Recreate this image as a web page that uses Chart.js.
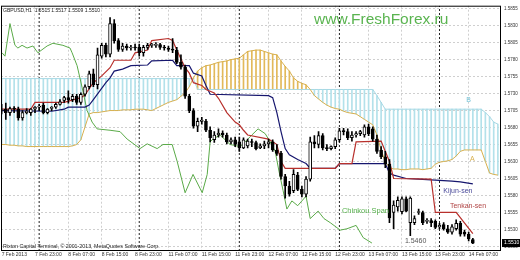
<!DOCTYPE html>
<html><head><meta charset="utf-8">
<script src="https://cdn.jsdelivr.net/npm/chart.js@4.4.1/dist/chart.umd.min.js"></script>
<style>html,body{margin:0;padding:0;background:#fff;}</style>
</head><body>
<canvas id="c" width="520" height="260"></canvas>
<script>
// ---- data ----
const xTickIdx = [0,8,16,24,32,40,48,56,64,72,80,88,96,104,112];
const xTickLabels = ["7 Feb 2013","7 Feb 23:00","8 Feb 07:00","8 Feb 15:00","8 Feb 23:00","11 Feb 07:00","11 Feb 15:00","11 Feb 23:00","12 Feb 07:00","12 Feb 15:00","12 Feb 23:00","13 Feb 07:00","13 Feb 15:00","13 Feb 23:00","14 Feb 07:00"];
const yTicks = [1.5505,1.5530,1.5555,1.5580,1.5605,1.5630,1.5655,1.5680,1.5705,1.5730,1.5755,1.5780,1.5805,1.5830,1.5855];
const daySeparators = [9,33,57,81,105];

const open = [1.5705,1.5707,1.5702,1.5708,1.5707,1.5694,1.5702,1.5702,1.5707,1.5710,
1.5713,1.5702,1.5708,1.5710,1.5714,1.5720,1.5724,1.5721,1.5726,1.5717,
1.5729,1.5740,1.5759,1.5743,1.5785,1.5801,1.5788,1.5833,1.5808,1.5795,
1.5800,1.5797,1.5798,1.5798,1.5790,1.5798,1.5801,1.5801,1.5802,1.5798,
1.5797,1.5795,1.5794,1.5776,1.5769,1.5726,1.5705,1.5682,1.5689,1.5689,
1.5676,1.5662,1.5669,1.5672,1.5669,1.5659,1.5662,1.5659,1.5650,1.5653,
1.5659,1.5658,1.5650,1.5653,1.5656,1.5659,1.5647,1.5642,1.5608,1.5594,
1.5587,1.5610,1.5589,1.5582,1.5604,1.5659,1.5655,1.5668,1.5650,1.5649,
1.5652,1.5662,1.5675,1.5674,1.5665,1.5669,1.5671,1.5669,1.5681,1.5678,
1.5663,1.5647,1.5637,1.5626,1.5555,1.5563,1.5556,1.5575,1.5540,1.5540,
1.5555,1.5555,1.5542,1.5543,1.5542,1.5534,1.5537,1.5531,1.5526,1.5531,
1.5539,1.5526,1.5523,1.5515];
const high = [1.5714,1.5716,1.5710,1.5711,1.5710,1.5705,1.5708,1.5708,1.5711,1.5714,
1.5716,1.5708,1.5711,1.5716,1.5721,1.5726,1.5734,1.5729,1.5729,1.5731,
1.5743,1.5763,1.5766,1.5797,1.5804,1.5804,1.5842,1.5839,1.5811,1.5804,
1.5803,1.5801,1.5803,1.5803,1.5801,1.5804,1.5804,1.5805,1.5804,1.5801,
1.5800,1.5811,1.5798,1.5787,1.5772,1.5729,1.5708,1.5694,1.5695,1.5692,
1.5681,1.5674,1.5678,1.5675,1.5672,1.5665,1.5666,1.5666,1.5665,1.5663,
1.5663,1.5660,1.5656,1.5660,1.5663,1.5662,1.5655,1.5645,1.5611,1.5601,
1.5618,1.5614,1.5594,1.5608,1.5666,1.5668,1.5674,1.5671,1.5655,1.5653,
1.5665,1.5679,1.5679,1.5678,1.5674,1.5674,1.5676,1.5684,1.5685,1.5681,
1.5669,1.5652,1.5645,1.5633,1.5572,1.5578,1.5578,1.5578,1.5578,1.5550,
1.5560,1.5557,1.5546,1.5546,1.5544,1.5539,1.5540,1.5536,1.5537,1.5544,
1.5542,1.5529,1.5526,1.5517];
const low = [1.5700,1.5692,1.5698,1.5702,1.5691,1.5691,1.5700,1.5698,1.5702,1.5705,
1.5700,1.5700,1.5705,1.5708,1.5713,1.5717,1.5716,1.5718,1.5714,1.5714,
1.5726,1.5737,1.5740,1.5737,1.5782,1.5784,1.5784,1.5804,1.5792,1.5792,
1.5794,1.5794,1.5794,1.5785,1.5785,1.5795,1.5798,1.5798,1.5795,1.5794,
1.5792,1.5790,1.5774,1.5766,1.5723,1.5702,1.5679,1.5674,1.5685,1.5674,
1.5659,1.5658,1.5666,1.5666,1.5656,1.5656,1.5652,1.5645,1.5649,1.5650,
1.5652,1.5647,1.5649,1.5649,1.5650,1.5645,1.5639,1.5604,1.5576,1.5579,
1.5584,1.5587,1.5578,1.5578,1.5601,1.5650,1.5650,1.5647,1.5646,1.5647,
1.5649,1.5659,1.5669,1.5662,1.5660,1.5666,1.5668,1.5666,1.5668,1.5660,
1.5642,1.5634,1.5621,1.5540,1.5531,1.5557,1.5553,1.5556,1.5521,1.5537,
1.5552,1.5537,1.5539,1.5534,1.5531,1.5531,1.5529,1.5524,1.5523,1.5529,
1.5520,1.5520,1.5513,1.5509];
const close = [1.5707,1.5702,1.5708,1.5707,1.5694,1.5702,1.5704,1.5707,1.5710,1.5711,
1.5702,1.5707,1.5710,1.5714,1.5718,1.5724,1.5721,1.5726,1.5717,1.5729,
1.5740,1.5759,1.5743,1.5787,1.5801,1.5788,1.5833,1.5808,1.5795,1.5800,
1.5797,1.5798,1.5797,1.5790,1.5798,1.5801,1.5801,1.5802,1.5798,1.5797,
1.5795,1.5794,1.5776,1.5769,1.5726,1.5705,1.5682,1.5689,1.5691,1.5676,
1.5665,1.5669,1.5672,1.5669,1.5659,1.5662,1.5655,1.5650,1.5662,1.5660,
1.5658,1.5649,1.5653,1.5656,1.5659,1.5647,1.5642,1.5608,1.5594,1.5582,
1.5611,1.5589,1.5582,1.5604,1.5659,1.5656,1.5668,1.5650,1.5649,1.5652,
1.5662,1.5675,1.5674,1.5665,1.5669,1.5671,1.5674,1.5681,1.5671,1.5663,
1.5645,1.5637,1.5626,1.5547,1.5566,1.5573,1.5575,1.5557,1.5576,1.5546,
1.5556,1.5540,1.5543,1.5540,1.5533,1.5536,1.5531,1.5526,1.5534,1.5539,
1.5523,1.5523,1.5516,1.5510];

const senkouA = [1.5655,1.5655,1.5654,1.5654,1.5653,1.5653,1.5652,1.5652,1.5652,1.5652,
1.5652,1.5652,1.5652,1.5652,1.5652,1.5652,1.5652,1.5653,1.5655,1.5662,
1.5681,1.5700,1.5702,1.5702,1.5703,1.5704,1.5705,1.5705,1.5705,1.5706,
1.5706,1.5706,1.5707,1.5707,1.5707,1.5706,1.5705,1.5708,1.5711,1.5714,
1.5717,1.5719,1.5721,1.5726,1.5731,1.5740,1.5753,1.5763,1.5768,1.5771,
1.5772,1.5774,1.5776,1.5777,1.5778,1.5780,1.5781,1.5782,1.5787,1.5792,
1.5793,1.5794,1.5794,1.5792,1.5790,1.5788,1.5787,1.5778,1.5770,1.5763,
1.5753,1.5748,1.5745,1.5743,1.5736,1.5727,1.5722,1.5717,1.5713,1.5710,
1.5708,1.5707,1.5704,1.5702,1.5701,1.5700,1.5696,1.5692,1.5688,1.5684,
1.5669,1.5647,1.5630,1.5621,1.5619,1.5619,1.5618,1.5618,1.5619,1.5619,
1.5619,1.5618,1.5619,1.5620,1.5626,1.5629,1.5630,1.5631,1.5633,1.5638,
1.5645,1.5647,1.5647,1.5647,1.5647,1.5647,1.5630,1.5613,1.5611,1.5610];
const senkouB = [1.5752,1.5752,1.5752,1.5752,1.5752,1.5752,1.5752,1.5752,1.5752,1.5752,
1.5752,1.5752,1.5752,1.5752,1.5752,1.5752,1.5752,1.5752,1.5752,1.5752,
1.5752,1.5752,1.5752,1.5752,1.5752,1.5752,1.5752,1.5752,1.5752,1.5752,
1.5752,1.5752,1.5752,1.5752,1.5752,1.5752,1.5752,1.5752,1.5752,1.5752,
1.5752,1.5752,1.5752,1.5752,1.5752,1.5752,1.5752,1.5736,1.5736,1.5736,
1.5736,1.5736,1.5736,1.5736,1.5736,1.5736,1.5736,1.5736,1.5736,1.5736,
1.5736,1.5736,1.5736,1.5736,1.5736,1.5736,1.5736,1.5736,1.5736,1.5736,
1.5736,1.5736,1.5736,1.5736,1.5736,1.5736,1.5736,1.5736,1.5736,1.5736,
1.5736,1.5736,1.5736,1.5736,1.5736,1.5736,1.5736,1.5736,1.5736,1.5736,
1.5727,1.5717,1.5707,1.5707,1.5707,1.5707,1.5707,1.5707,1.5707,1.5707,
1.5707,1.5707,1.5707,1.5707,1.5707,1.5707,1.5707,1.5707,1.5707,1.5707,
1.5707,1.5707,1.5707,1.5707,1.5707,1.5707,1.5702,1.5696,1.5688,1.5685];

const tenkan = [[0,1.5707],[7,1.5707],[8,1.5717],[15,1.5717],[19,1.5724],[20,1.5728],[22,1.5746],[24,1.5756],[26,1.5768],[27,1.5779],[31,1.5779],[32,1.5790],[35,1.5794],[36,1.5808],[40,1.5811],[41,1.5808],[42,1.5794],[44,1.5768],[45,1.5760],[46,1.5746],[48,1.5742],[49,1.5736],[51,1.5731],[52,1.5723],[54,1.5702],[56,1.5688],[57,1.5684],[58,1.5676],[59,1.5669],[64,1.5663],[65,1.5659],[66,1.5655],[67,1.5630],[68,1.5620],[80,1.5620],[81,1.5627],[84,1.5627],[85,1.5659],[91,1.5660],[93,1.5630],[94,1.5605],[103,1.5604],[104,1.5555],[109,1.5555],[113,1.5524]];
const kijun = [[0,1.5705],[12,1.5704],[15,1.5707],[16,1.5710],[20,1.5710],[21,1.5713],[22,1.5721],[25,1.5746],[26,1.5753],[27,1.5763],[29,1.5766],[31,1.5771],[35,1.5772],[36,1.5778],[41,1.5779],[42,1.5771],[45,1.5771],[46,1.5760],[48,1.5756],[49,1.5742],[50,1.5729],[64,1.5727],[65,1.5724],[66,1.5702],[67,1.5674],[68,1.5649],[69,1.5640],[71,1.5633],[73,1.5627],[74,1.5620],[80,1.5620],[81,1.5627],[92,1.5627],[93,1.5613],[94,1.5610],[97,1.5605],[100,1.5604],[108,1.5601],[110,1.5600],[113,1.5597]];
const chikou = [[0.1,1.5790],[0.8,1.5785],[2.0,1.5833],[3.2,1.5801],[3.9,1.5797],[4.9,1.5801],[6.1,1.5797],[7.5,1.5800],[8.7,1.5790],[10.9,1.5800],[12.3,1.5804],[14.7,1.5801],[16.4,1.5797],[16.9,1.5790],[18.1,1.5771],[19.3,1.5739],[20.5,1.5705],[21.7,1.5688],[22.9,1.5678],[26,1.5676],[28.4,1.5674],[30.1,1.5663],[33.2,1.5649],[34.9,1.5656],[37.3,1.5649],[38.7,1.5655],[40.9,1.5655],[42.1,1.5630],[44,1.5584],[45.9,1.5611],[48.1,1.5584],[49.3,1.5611],[50,1.5659],[50.7,1.5663],[52.4,1.5669],[54.8,1.5655],[57.2,1.5652],[58.4,1.5659],[60,1.5669],[61.5,1.5678],[63.2,1.5671],[64.4,1.5659],[65.6,1.5645],[66.5,1.5616],[67.5,1.5587],[68.4,1.5560],[69.6,1.5572],[71,1.5565],[73,1.5579],[74,1.5546],[75.9,1.5557],[77.3,1.5546],[78.8,1.5540],[81.2,1.5529],[82.8,1.5531],[85,1.5536],[86.7,1.5518],[88.8,1.5510]];

// ---- build datasets ----
const FONT = '"Liberation Sans", Arial, sans-serif';
const Y_MIN = 1.54983, Y_MAX = 1.58593;
const last = close.length - 1;
const idx = open.map((_, i) => i);
const pts = arr => arr.map(p => ({x: p[0], y: p[1]}));

const hatch = senkouA.map((a, i) => ({x: i, y: [a, senkouB[i]]}));
const hatchColors = senkouA.map((a, i) => a > senkouB[i] ? '#e2b95a' : '#b3e1ea');
const sepData = [];
daySeparators.forEach(d => { sepData.push({x: d, y: Y_MIN}, {x: d, y: Y_MAX}, {x: d, y: null}); });

const datasets = [
  {type:'line', data: sepData, borderColor:'#222', borderWidth:1, borderDash:[2,2], pointRadius:0, spanGaps:false, order:20},
  {type:'bar', data: hatch, backgroundColor: hatchColors, barThickness:1, grouped:false, order:15},
  {type:'line', data: senkouA.map((v,i)=>({x:i,y:v})), borderColor:'#d8b04e', borderWidth:1, pointRadius:0, order:12},
  {type:'line', data: senkouB.map((v,i)=>({x:i,y:v})), borderColor:'#a6d8e4', borderWidth:1, pointRadius:0, order:12},
  {type:'line', data: pts(chikou), borderColor:'#5aaa48', borderWidth:1, pointRadius:0, order:8},
  {type:'line', data: pts(kijun), borderColor:'#16166e', borderWidth:1.2, pointRadius:0, order:6},
  {type:'line', data: pts(tenkan), borderColor:'#b8302c', borderWidth:1.2, pointRadius:0, order:5},
  {type:'bar', data: idx.map(i => ({x:i, y:[low[i], high[i]]})), backgroundColor:'#000', barThickness:1, grouped:false, order:3},
  {type:'bar', data: idx.map(i => ({x:i, y:[open[i], close[i]]})),
    backgroundColor: idx.map(i => close[i] >= open[i] ? '#fff' : '#000'),
    borderColor:'#000', borderWidth:1, borderSkipped:false, barThickness:3, minBarLength:1, grouped:false, order:2}
];

const decor = {
  id: 'decor',
  beforeDatasetsDraw(chart) {
    const {ctx} = chart;
    ctx.save();
    ctx.font = '15.5px ' + FONT;
    ctx.fillStyle = '#5ab450';
    ctx.textBaseline = 'middle';
    ctx.fillText('www.FreshForex.ru', 314, 20);
    ctx.restore();
  },
  afterDatasetsDraw(chart) {
    const {ctx, chartArea: a, scales: {x, y}} = chart;
    ctx.save();
    ctx.textBaseline = 'middle';
    const notes = [
      {t:'B', i:111.4, p:1.5720, c:'#74c4d8', f:7},
      {t:'A', i:112.3, p:1.5634, c:'#d8b04e', f:7},
      {t:'Kijun-sen', i:105.9, p:1.5587, c:'#4a4a9a', f:7},
      {t:'Tenkan-sen', i:107.5, p:1.5565, c:'#b04444', f:7},
      {t:'Chinkou Span', i:81.6, p:1.5557, c:'#56b04c', f:7.5},
      {t:'1.5460', i:96.7, p:1.5513, c:'#555', f:7}
    ];
    notes.forEach(n => {
      ctx.font = n.f + 'px ' + FONT;
      ctx.fillStyle = n.c;
      ctx.fillText(n.t, x.getPixelForValue(n.i), y.getPixelForValue(n.p));
    });
    ctx.font = '5px ' + FONT;
    ctx.fillStyle = '#222';
    ctx.fillText('GBPUSD,H1  ' + [open[last], high[last], low[last], close[last]].map(v => v.toFixed(4)).join(' '), a.left + 2, a.top + 5);
    ctx.font = '5.3px ' + FONT;
    ctx.fillText('Rixton Capital Terminal, \u00A9 2001-2013, MetaQuotes Software Corp.', a.left + 2, a.bottom - 4);
    ctx.strokeStyle = '#000';
    ctx.lineWidth = 1;
    ctx.strokeRect(a.left + 0.5, a.top + 0.5, a.width - 1, a.height - 1);
    ctx.restore();
  },
  afterDraw(chart) {
    const {ctx, chartArea: a, scales: {y}} = chart;
    const py = y.getPixelForValue(close[last]);
    ctx.save();
    ctx.fillStyle = '#000';
    ctx.fillRect(a.right + 1, py - 4, 18, 8);
    ctx.fillStyle = '#fff';
    ctx.font = '5px ' + FONT;
    ctx.textBaseline = 'middle';
    ctx.fillText(close[last].toFixed(4), a.right + 3, py);
    ctx.restore();
  }
};

new Chart(document.getElementById('c'), {
  type: 'line',
  data: { datasets },
  options: {
    responsive: false,
    animation: false,
    events: [],
    layout: { padding: { left: 1, top: 2, right: 0, bottom: 0 } },
    plugins: { legend: { display: false }, tooltip: { enabled: false } },
    scales: {
      x: {
        type: 'linear', min: -0.15, max: 119.75, offset: false,
        afterBuildTicks: ax => { ax.ticks = xTickIdx.map(v => ({value: v})); },
        afterFit: ax => { ax.height = 9; },
        ticks: { autoSkip: false, maxRotation: 0, align: 'start', padding: 1, color: '#333',
          font: { family: FONT, size: 5 },
          callback: (v, i) => xTickLabels[i] },
        grid: { color: '#cfcfcf', drawTicks: false, offset: false },
        border: { display: false, dash: [2, 2] }
      },
      y: {
        type: 'linear', position: 'right', min: Y_MIN, max: Y_MAX, beginAtZero: false,
        afterBuildTicks: ax => { ax.ticks = yTicks.map(v => ({value: v})); },
        afterFit: ax => { ax.width = 19; },
        ticks: { autoSkip: false, padding: 3, color: '#333', font: { family: FONT, size: 4.5 },
          callback: v => v.toFixed(4) },
        grid: { color: '#cfcfcf', drawTicks: false },
        border: { display: false, dash: [2, 2] }
      }
    }
  },
  plugins: [decor]
});
</script>
</body></html>
